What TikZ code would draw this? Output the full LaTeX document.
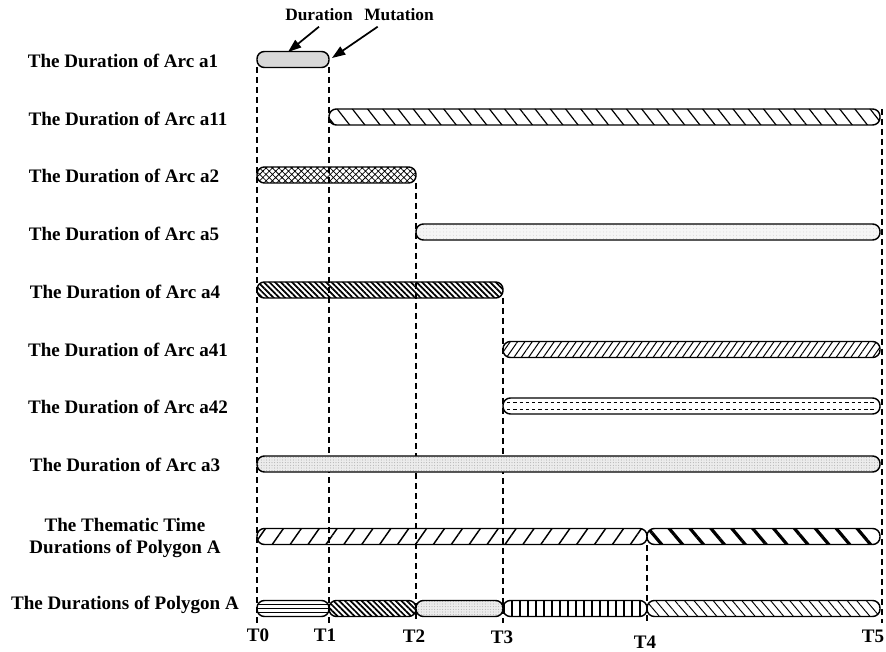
\documentclass[tikz,border=0pt]{standalone}
\usepackage{fontspec}
\setmainfont{Liberation Serif}
\usetikzlibrary{patterns.meta,arrows.meta}
\newcommand\durbar[4]{\draw[barline,#4] (#2,#1-8) rectangle (#3,#1+8);}
\begin{document}
\begin{tikzpicture}[x=0.75pt,y=-0.75pt,
  lab/.style={font=\fontsize{14.3}{16.5}\selectfont\bfseries, align=center, inner sep=1pt},
  toplab/.style={font=\fontsize{13}{15}\selectfont\bfseries, inner sep=1pt},
  barline/.style={draw=black, line width=1.1pt, rounded corners=5.5pt},
  tline/.style={draw=black, line width=1.1pt, dash pattern=on 4.5pt off 3pt},
  ptr/.style={line width=1.3pt, -{Triangle[length=10pt,width=7pt]}},
  pa1/.style={preaction={fill=gray!15}, pattern={Dots[distance=1.5pt,radius=0.36pt]}},
  pa11/.style={pattern={Lines[angle=-52,distance=9pt,line width=0.9pt]}},
  pa2/.style={pattern={Hatch[angle=45,distance=3.4pt,line width=0.55pt]}},
  pa5/.style={preaction={fill=gray!8}, pattern={Dots[distance=2.5pt,radius=0.25pt]}, pattern color=gray!60},
  pa4/.style={pattern={Lines[angle=-45,distance=3pt,line width=1.3pt]}},
  pa41/.style={pattern={Lines[angle=55,distance=4.5pt,line width=0.75pt]}},
  pa3/.style={preaction={fill=gray!15}, pattern={Dots[distance=2pt,radius=0.35pt]}, pattern color=gray!80},
  pth1/.style={pattern={Lines[angle=55,distance=11pt,line width=1.1pt]}},
  pth2/.style={pattern={Lines[angle=-50,distance=12pt,line width=2.4pt]}},
  pp1/.style={pattern={Lines[angle=0,distance=3pt,line width=0.6pt]}},
  pp4/.style={pattern={Lines[angle=90,distance=6pt,line width=0.9pt]}},
  pp5/.style={pattern={Lines[angle=-50,distance=5.5pt,line width=0.7pt]}},
]
\useasboundingbox (0,0) rectangle (886,652);

% time lines
\coordinate (T0top) at (257,67);  \coordinate (T0bot) at (257,623);
\coordinate (T1top) at (329,67);  \coordinate (T1bot) at (329,623);
\coordinate (T2top) at (416,183); \coordinate (T2bot) at (416,623);
\coordinate (T3top) at (503,298); \coordinate (T3bot) at (503,623);
\coordinate (T4top) at (647,545); \coordinate (T4bot) at (647,623);
\coordinate (T5top) at (882,109); \coordinate (T5bot) at (882,623);
\foreach \n in {0,...,5} \draw[tline] (T\n top) -- (T\n bot);

% bars
\durbar{59.5}{257}{329}{pa1}
\durbar{117}{329}{880}{pa11}
\durbar{175}{257}{416}{pa2}
\durbar{232}{416}{880}{pa5}
\durbar{290}{257}{503}{pa4}
\durbar{349.5}{503}{880}{pa41}
\durbar{406}{503}{880}{fill=white}
\draw[line width=0.8pt, dash pattern=on 2.5pt off 2.2pt] (507,402.5) -- (876,402.5);
\draw[line width=0.8pt, dash pattern=on 2.5pt off 2.2pt] (507,409.5) -- (876,409.5);
\durbar{464}{257}{880}{pa3}
\durbar{536.5}{257}{647}{pth1}
\durbar{536.5}{647}{880}{pth2}
\durbar{608.5}{257}{329}{pp1}
\durbar{608.5}{329}{416}{pa4}
\durbar{608.5}{416}{503}{pa3}
\durbar{608.5}{503}{647}{pp4}
\durbar{608.5}{647}{880}{pp5}

% row labels
\node[lab] (la1)  at (123,61)  {The Duration of Arc a1};
\node[lab] (la11) at (128,119) {The Duration of Arc a11};
\node[lab] (la2)  at (124,176) {The Duration of Arc a2};
\node[lab] (la5)  at (124,234) {The Duration of Arc a5};
\node[lab] (la4)  at (125,292) {The Duration of Arc a4};
\node[lab] (la41) at (128,350) {The Duration of Arc a41};
\node[lab] (la42) at (128,407) {The Duration of Arc a42};
\node[lab] (la3)  at (125,465) {The Duration of Arc a3};
\node[lab] (lth)  at (125,538) {The Thematic Time\\Durations of Polygon A};
\node[lab] (lpol) at (125,605) {The Durations of Polygon A};

% time labels
\node[lab] (t0) at (258,635) {T0};
\node[lab] (t1) at (325,635) {T1};
\node[lab] (t2) at (414,636) {T2};
\node[lab] (t3) at (502,637) {T3};
\node[lab] (t4) at (645,642) {T4};
\node[lab] (t5) at (873,636) {T5};

% pointers
\node[toplab] (dur) at (319,15) {Duration};
\node[toplab] (mut) at (399,15) {Mutation};
\coordinate (durtip) at (288,52);
\coordinate (muttip) at (332,58);
\draw[ptr] ([yshift=-3pt]dur.south) -- (durtip);
\draw[ptr] ([xshift=-16pt,yshift=-3pt]mut.south) -- (muttip);
\end{tikzpicture}
\end{document}
